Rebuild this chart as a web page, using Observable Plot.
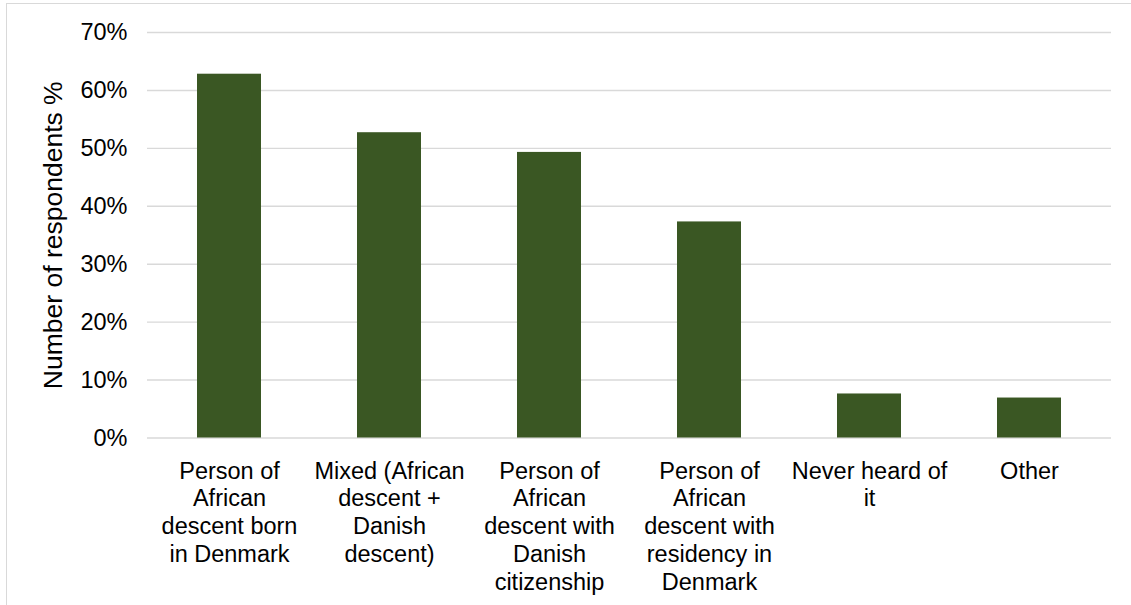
<!DOCTYPE html>
<html>
<head>
<meta charset="utf-8">
<script src="https://cdn.jsdelivr.net/npm/d3@7"></script>
<script src="https://cdn.jsdelivr.net/npm/@observablehq/plot@0.6"></script>
<style>
  html, body { margin: 0; padding: 0; background: #fff; }
  #chart { position: relative; width: 1131px; height: 605px; overflow: hidden; }
  #chart .border { position: absolute; left: 6px; top: 3px; right: -4px; bottom: -4px;
    border-left: 1.5px solid #d9d9d9; border-top: 1.5px solid #d9d9d9; }
  #chart svg { position: absolute; left: 0; top: 0; }
</style>
</head>
<body>
<div id="chart"><div class="border"></div></div>
<script>
// How respondents understand the term – share of respondents per answer
const categories = [
  "Person of African descent born in Denmark",
  "Mixed (African descent + Danish descent)",
  "Person of African descent with Danish citizenship",
  "Person of African descent with residency in Denmark",
  "Never heard of it",
  "Other"
];
const tickLabels = [
  "Person of\nAfrican\ndescent born\nin Denmark",
  "Mixed (African\ndescent +\nDanish\ndescent)",
  "Person of\nAfrican\ndescent with\nDanish\ncitizenship",
  "Person of\nAfrican\ndescent with\nresidency in\nDenmark",
  "Never heard of\nit",
  "Other"
];
const shares = [62.8, 52.7, 49.3, 37.3, 7.6, 6.9];
const yTicks = [0, 10, 20, 30, 40, 50, 60, 70];
const yTitle = "Number of respondents %";

const rows = categories.map((c, i) => ({category: c, share: shares[i]}));

const chart = Plot.plot({
  width: 1131,
  height: 605,
  marginLeft: 147,
  marginRight: 20,
  marginTop: 32,
  marginBottom: 167.5,
  style: {
    fontFamily: "Arial, 'Liberation Sans', sans-serif",
    fontSize: "23.5px",
    color: "#000",
    background: "transparent",
    overflow: "visible"
  },
  x: {domain: categories, paddingInner: 0.6, paddingOuter: 0.3},
  y: {domain: [0, 70]},
  marks: [
    Plot.gridY(yTicks, {stroke: "#d9d9d9", strokeOpacity: 1, strokeWidth: 1.4}),
    Plot.barY(rows, {x: "category", y: "share", fill: "#3a5723"}),
    Plot.axisY(yTicks, {
      tickSize: 0, tickPadding: 20, label: null,
      tickFormat: d => d + "%", fill: "#000"
    }),
    Plot.axisX({
      tickSize: 0, tickPadding: 21, label: null, lineHeight: 1.18,
      tickFormat: d => tickLabels[categories.indexOf(d)], fill: "#000"
    }),
    Plot.text([yTitle], {
      text: d => d, frameAnchor: "left", dx: -94, rotate: -90,
      textAnchor: "middle", lineAnchor: "middle",
      fontSize: 26.5, fill: "#000"
    })
  ]
});
document.getElementById("chart").appendChild(chart);
</script>
</body>
</html>
